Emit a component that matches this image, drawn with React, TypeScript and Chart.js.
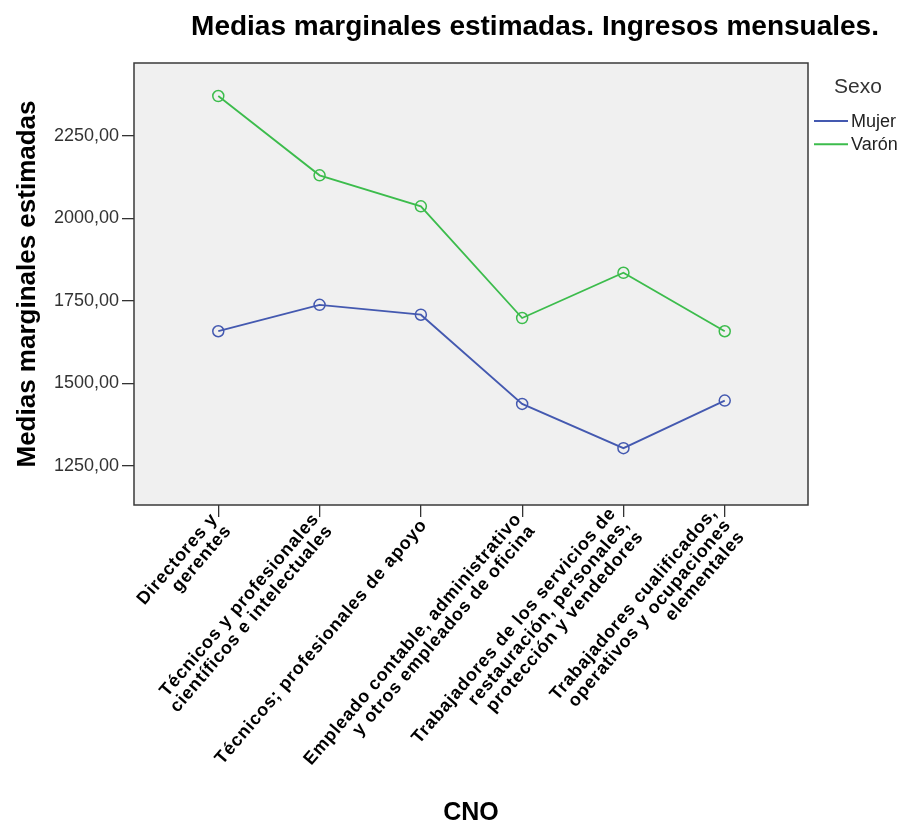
import React, { useEffect, useRef } from "react";
import { Chart, registerables } from "chart.js";

Chart.register(...registerables);

const TITLE = "Medias marginales estimadas. Ingresos mensuales.";
const Y_TITLE = "Medias marginales estimadas";
const X_TITLE = "CNO";
const LEGEND_TITLE = "Sexo";
const CATEGORIES: string[][] = [
  ["Directores y", "gerentes"],
  ["Técnicos y profesionales", "científicos e intelectuales"],
  ["Técnicos; profesionales de apoyo"],
  ["Empleado contable, administrativo", "y otros empleados de oficina"],
  ["Trabajadores de los servicios de", "restauración, personales,", "protección y vendedores"],
  ["Trabajadores cualificados,", "operativos y ocupaciones", "elementales"],
];
const SERIES_NAMES = ["Mujer", "Varón"];
const MUJER = [1658, 1738, 1708, 1438, 1304, 1448];
const VARON = [2370, 2130, 2036, 1698, 1835, 1658];
const Y_TICKS = [1250, 1500, 1750, 2000, 2250];
const COLORS = ["#4459b0", "#3cbc4c"];

const FONT = "'Liberation Sans', Arial, sans-serif";
const ROT = (49.5 * Math.PI) / 180;

const customPlugin = {
  id: "custom",
  beforeDraw(chart: any) {
    const { ctx, chartArea: a } = chart;
    ctx.save();
    ctx.fillStyle = "#f0f0f0";
    ctx.fillRect(a.left, a.top, a.right - a.left, a.bottom - a.top);
    ctx.restore();
  },
  afterDraw(chart: any) {
    const { ctx, chartArea: a } = chart;
    ctx.save();
    // plot border
    ctx.strokeStyle = "#3a3a3a";
    ctx.lineWidth = 1.5;
    ctx.strokeRect(a.left, a.top, a.right - a.left, a.bottom - a.top);

    // main title
    ctx.fillStyle = "#000";
    ctx.font = `bold 28px ${FONT}`;
    ctx.textAlign = "center";
    ctx.textBaseline = "alphabetic";
    ctx.fillText(TITLE, 527, 27);

    // legend
    ctx.textBaseline = "middle";
    ctx.font = `21px ${FONT}`;
    ctx.fillStyle = "#333";
    ctx.textAlign = "left";
    ctx.fillText(LEGEND_TITLE, 826, 79);
    ctx.font = `18px ${FONT}`;
    SERIES_NAMES.forEach((name, i) => {
      const y = 113 + i * 23.3;
      ctx.strokeStyle = COLORS[i];
      ctx.lineWidth = 2;
      ctx.beginPath();
      ctx.moveTo(806, y);
      ctx.lineTo(840, y);
      ctx.stroke();
      ctx.fillStyle = "#222";
      ctx.fillText(name, 843, y + 1);
    });

    // category labels
    const xs = chart.scales.x;
    ctx.font = `bold 18px ${FONT}`;
    try {
      (ctx as any).letterSpacing = "0.8px";
    } catch (e) {}
    ctx.fillStyle = "#000";
    ctx.textAlign = "right";
    ctx.textBaseline = "middle";
    const lh = 18;
    CATEGORIES.forEach((lines, i) => {
      const px = xs.getPixelForValue(i);
      ctx.save();
      ctx.translate(px + 3, a.bottom + 17);
      ctx.rotate(-ROT);
      lines.forEach((l, j) => {
        const y = (j - (lines.length - 1) / 2) * lh;
        ctx.fillText(l, 0, y);
      });
      ctx.restore();
    });
    try {
      (ctx as any).letterSpacing = "0px";
    } catch (e) {}
    ctx.restore();
  },
};

export default function App() {
  const ref = useRef<HTMLCanvasElement | null>(null);
  useEffect(() => {
    if (!ref.current) return;
    const idx = CATEGORIES.map((_, i) => i);
    const chart = new Chart(ref.current, {
      type: "line",
      data: {
        datasets: [MUJER, VARON].map((vals, k) => ({
          label: SERIES_NAMES[k],
          data: vals.map((v, i) => ({ x: idx[i], y: v })),
          borderColor: COLORS[k],
          backgroundColor: "transparent",
          borderWidth: 1.8,
          pointRadius: 5.5,
          pointBorderWidth: 1.5,
          pointBorderColor: COLORS[k],
          pointBackgroundColor: "transparent",
          tension: 0,
        })),
      },
      options: {
        animation: false,
        responsive: false,
        maintainAspectRatio: false,
        layout: { padding: { top: 55, right: 90, left: 0, bottom: 0 } },
        plugins: { legend: { display: false }, title: { display: false }, tooltip: { enabled: false } },
        scales: {
          x: {
            type: "linear",
            min: -0.832,
            max: 5.822,
            afterBuildTicks: (s: any) => {
              s.ticks = idx.map((v) => ({ value: v }));
            },
            afterFit: (s: any) => {
              s.height = 324;
            },
            ticks: { display: false },
            grid: { drawOnChartArea: false, drawTicks: true, tickLength: 12, color: "#333", lineWidth: 1.3 },
            border: { display: false },
            title: {
              display: true,
              text: X_TITLE,
              color: "#000",
              font: { family: FONT, size: 25, weight: "bold", lineHeight: 1.24 },
              padding: 0,
            },
          },
          y: {
            min: 1132,
            max: 2470,
            afterBuildTicks: (s: any) => {
              s.ticks = Y_TICKS.map((v) => ({ value: v }));
            },
            afterFit: (s: any) => {
              s.width = 126;
            },
            ticks: {
              color: "#333",
              font: { family: FONT, size: 18 },
              padding: 3,
              callback: (v: any) => Number(v).toFixed(2).replace(".", ","),
            },
            grid: { drawOnChartArea: false, drawTicks: true, tickLength: 12, color: "#333", lineWidth: 1.3 },
            border: { display: false },
            title: {
              display: true,
              text: Y_TITLE,
              color: "#000",
              font: { family: FONT, size: 26, weight: "bold", lineHeight: 0.95 },
              padding: { top: 7, bottom: 0 },
            },
          },
        },
      },
      plugins: [customPlugin],
    });
    return () => chart.destroy();
  }, []);
  return (
    <div style={{ width: 890, height: 813 }}>
      <canvas ref={ref} width={890} height={821} style={{ display: "block" }} />
    </div>
  );
}
